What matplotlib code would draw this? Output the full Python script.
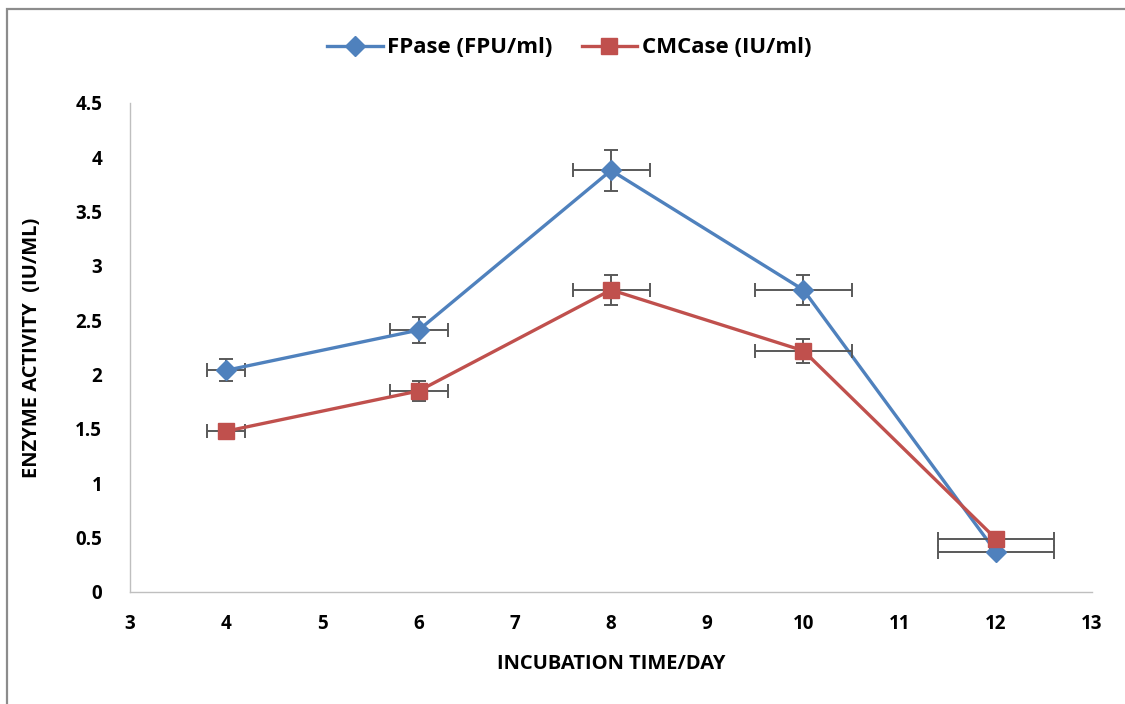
import matplotlib
matplotlib.use("Agg")
import matplotlib.pyplot as plt
from matplotlib.patches import Rectangle
from matplotlib.lines import Line2D

plt.rcParams["font.family"] = ["Open Sans", "DejaVu Sans"]
plt.rcParams["font.weight"] = "bold"

days = [4, 6, 8, 10, 12]
fpase = [2.04, 2.41, 3.88, 2.78, 0.37]
fpase_yerr = [0.10, 0.12, 0.19, 0.14, 0.03]
cmcase = [1.48, 1.85, 2.78, 2.22, 0.49]
cmcase_yerr = [0.05, 0.09, 0.14, 0.11, 0.03]
xerr = [0.2, 0.3, 0.4, 0.5, 0.6]

BLUE, RED, ERR = "#4F81BD", "#C0504D", "#595959"

fig = plt.figure(figsize=(11.25, 7.04), dpi=100)
ax = fig.add_axes([0.1156, 0.1591, 0.8551, 0.6946])

# outer chart border (cut at right/bottom like the source screenshot)
fig.patches.append(Rectangle((6.5 / 1125, -0.1), 1.2, 1 - 8.5 / 704 + 0.1,
                             transform=fig.transFigure, fill=False,
                             edgecolor="#8C8C8C", linewidth=1.6))

ax.errorbar(days, fpase, yerr=fpase_yerr, xerr=xerr, color=BLUE, linewidth=2.4,
            marker="D", markersize=10, ecolor=ERR, elinewidth=1.4, capsize=5,
            capthick=1.4, zorder=3)
ax.errorbar(days, cmcase, yerr=cmcase_yerr, xerr=xerr, color=RED, linewidth=2.4,
            marker="s", markersize=11, ecolor=ERR, elinewidth=1.4, capsize=5,
            capthick=1.4, zorder=4)

ax.set_xlim(3, 13)
ax.set_ylim(0, 4.5)
ax.set_xticks(range(3, 14))
ax.set_yticks([0, 0.5, 1, 1.5, 2, 2.5, 3, 3.5, 4, 4.5])
ax.set_yticklabels(["0", "0.5", "1", "1.5", "2", "2.5", "3", "3.5", "4", "4.5"])
ax.tick_params(length=0, labelsize=13.5)
ax.tick_params(axis="x", pad=16)
ax.tick_params(axis="y", pad=20)
for s in ["top", "right"]:
    ax.spines[s].set_visible(False)
for s in ["left", "bottom"]:
    ax.spines[s].set_color("#BFBFBF")
    ax.spines[s].set_linewidth(1.0)

ax.set_xlabel("INCUBATION TIME/DAY", fontsize=14.5, fontweight="bold")
ax.set_ylabel("ENZYME ACTIVITY  (IU/ML)", fontsize=14.5, fontweight="bold")
ax.xaxis.set_label_coords(0.5, -0.126)
ax.yaxis.set_label_coords(-0.092, 0.5)

handles = [Line2D([], [], color=BLUE, linewidth=2.4, marker="D", markersize=10),
           Line2D([], [], color=RED, linewidth=2.4, marker="s", markersize=11)]
fig.legend(handles, ["FPase (FPU/ml)", "CMCase (IU/ml)"], loc="center",
           bbox_to_anchor=(0.506, 0.932), ncol=2, frameon=False,
           prop={"weight": "bold", "size": 16}, handlelength=2.5,
           columnspacing=1.3, handletextpad=0.2)

fig.savefig("out.png", dpi=100)
